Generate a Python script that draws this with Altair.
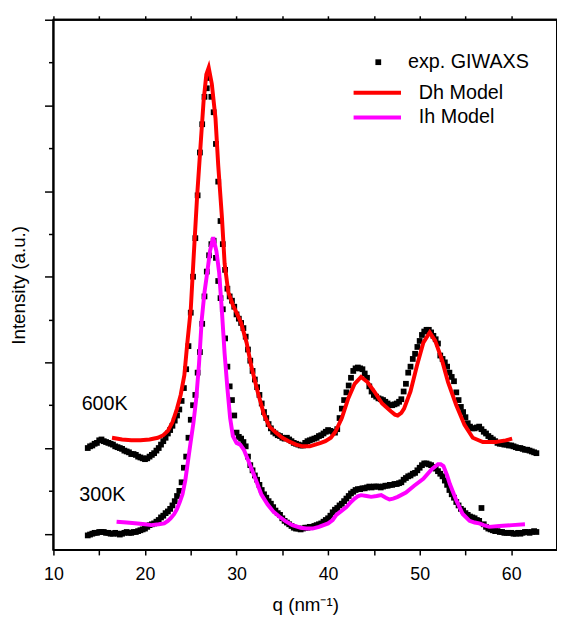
import altair as alt
import pandas as pd

FONT = "Liberation Sans"

# ---------------- data ----------------
Q_EXP = [
    13.75,
    14.0, 14.25, 14.5, 14.75,
    15.0, 15.25, 15.5, 15.75,
    16.0, 16.25, 16.5, 16.75,
    17.0, 17.25, 17.5, 17.75,
    18.0, 18.25, 18.5, 18.75,
    19.0, 19.25, 19.5, 19.75,
    20.0, 20.25, 20.5, 20.75,
    21.0, 21.25, 21.5, 21.75,
    22.0, 22.25, 22.5, 22.75,
    23.0, 23.25, 23.5, 23.75,
    24.0, 24.25, 24.5, 24.75,
    25.0, 25.25, 25.5, 25.75,
    26.0, 26.25, 26.5, 26.75,
    27.0, 27.25, 27.5, 27.75,
    28.0, 28.25, 28.5, 28.75,
    29.0, 29.25, 29.5, 29.75,
    30.0, 30.25, 30.5, 30.75,
    31.0, 31.25, 31.5, 31.75,
    32.0, 32.25, 32.5, 32.75,
    33.0, 33.25, 33.5, 33.75,
    34.0, 34.25, 34.5, 34.75,
    35.0, 35.25, 35.5, 35.75,
    36.0, 36.25, 36.5, 36.75,
    37.0, 37.25, 37.5, 37.75,
    38.0, 38.25, 38.5, 38.75,
    39.0, 39.25, 39.5, 39.75,
    40.0, 40.25, 40.5, 40.75,
    41.0, 41.25, 41.5, 41.75,
    42.0, 42.25, 42.5, 42.75,
    43.0, 43.25, 43.5, 43.75,
    44.0, 44.25, 44.5, 44.75,
    45.0, 45.25, 45.5, 45.75,
    46.0, 46.25, 46.5, 46.75,
    47.0, 47.25, 47.5, 47.75,
    48.0, 48.25, 48.5, 48.75,
    49.0, 49.25, 49.5, 49.75,
    50.0, 50.25, 50.5, 50.75,
    51.0, 51.25, 51.5, 51.75,
    52.0, 52.25, 52.5, 52.75,
    53.0, 53.25, 53.5, 53.75,
    54.0, 54.25, 54.5, 54.75,
    55.0, 55.25, 55.5, 55.75,
    56.0, 56.25, 56.5, 56.75,
    57.0, 57.25, 57.5, 57.75,
    58.0, 58.25, 58.5, 58.75,
    59.0, 59.25, 59.5, 59.75,
    60.0, 60.25, 60.5, 60.75,
    61.0, 61.25, 61.5, 61.75,
    62.0, 62.25, 62.5, 62.75,
]

I_600K = [
    1.00,
    1.02, 1.03, 1.05, 1.06,
    1.09, 1.10, 1.08, 1.07,
    1.06, 1.05, 1.04, 1.02,
    1.01, 1.00, 0.99, 0.97,
    0.96, 0.95, 0.93, 0.93,
    0.92, 0.90, 0.89, 0.88,
    0.87, 0.88, 0.90, 0.92,
    0.94, 0.97, 1.00, 1.04,
    1.08, 1.12, 1.17, 1.21,
    1.26, 1.32, 1.38, 1.45,
    1.55, 1.70, 1.92, 2.19,
    2.58, 3.00, 3.45, 3.95,
    4.45, 4.78, 5.10, 5.20,
    5.32, 5.10, 4.92, 4.55,
    4.11, 3.65, 3.38, 3.08,
    2.86, 2.77, 2.72, 2.65,
    2.56, 2.51, 2.46, 2.40,
    2.30, 2.15, 2.02, 1.90,
    1.80, 1.71, 1.62, 1.52,
    1.42, 1.35, 1.28, 1.23,
    1.19, 1.17, 1.15, 1.14,
    1.12, 1.11, 1.12, 1.10,
    1.08, 1.06, 1.05, 1.04,
    1.03, 1.03, 1.06, 1.08,
    1.09, 1.10, 1.11, 1.12,
    1.14, 1.15, 1.17, 1.19,
    1.21, 1.20, 1.19, 1.18,
    1.22, 1.35, 1.46, 1.56,
    1.65, 1.73, 1.82, 1.90,
    1.93, 1.94, 1.93, 1.92,
    1.87, 1.82, 1.72, 1.66,
    1.62, 1.60, 1.58, 1.57,
    1.56, 1.54, 1.52, 1.50,
    1.50, 1.51, 1.52, 1.54,
    1.57, 1.66, 1.75, 1.88,
    1.95, 2.04, 2.10, 2.18,
    2.25, 2.32, 2.36, 2.38,
    2.38, 2.35, 2.31, 2.27,
    2.22, 2.08, 2.04, 2.00,
    1.95, 1.88, 1.83, 1.78,
    1.65, 1.56, 1.48, 1.42,
    1.36, 1.29, 1.25, 1.23,
    1.23, 1.24, 1.25, 1.22,
    1.19, 1.17, 1.14, 1.12,
    1.10, 1.08, 1.06, 1.05,
    1.05, 1.04, 1.04, 1.03,
    1.03, 1.02, 1.01, 1.00,
    1.00, 0.99, 0.98, 0.98,
    0.97, 0.96, 0.95, 0.94,
]

I_300K = [
    -0.02,
    -0.01, 0.00, 0.01, 0.01,
    0.02, 0.02, 0.02, 0.01,
    0.01, 0.00, 0.00, 0.01,
    0.00, -0.01, 0.00, 0.01,
    0.02, 0.01, 0.01, 0.02,
    0.02, 0.03, 0.04, 0.05,
    0.06, 0.08, 0.10, 0.11,
    0.12, 0.14, 0.16, 0.19,
    0.21, 0.24, 0.26, 0.29,
    0.33, 0.38, 0.44, 0.50,
    0.60, 0.77, 0.90, 1.12,
    1.33, 1.50, 1.62, 1.88,
    2.12, 2.45, 2.77, 3.06,
    3.25, 3.38, 3.42, 3.22,
    2.95, 2.75, 2.62, 2.28,
    1.95, 1.72, 1.56, 1.38,
    1.18, 1.13, 1.11, 1.07,
    1.02, 0.90, 0.80, 0.74,
    0.68, 0.63, 0.57, 0.51,
    0.46, 0.42, 0.38, 0.35,
    0.31, 0.27, 0.24, 0.22,
    0.18, 0.15, 0.13, 0.11,
    0.09, 0.07, 0.06, 0.06,
    0.05, 0.06, 0.07, 0.07,
    0.08, 0.08, 0.09, 0.10,
    0.11, 0.12, 0.14, 0.16,
    0.18, 0.21, 0.25, 0.28,
    0.30, 0.33, 0.35, 0.38,
    0.41, 0.44, 0.47, 0.49,
    0.51, 0.52, 0.52, 0.53,
    0.53, 0.54, 0.55, 0.54,
    0.55, 0.55, 0.55, 0.54,
    0.55, 0.56, 0.56, 0.57,
    0.57, 0.58, 0.58, 0.59,
    0.60, 0.63, 0.65, 0.67,
    0.68, 0.70, 0.71, 0.74,
    0.77, 0.80, 0.82, 0.82,
    0.81, 0.80, 0.78, 0.76,
    0.73, 0.70, 0.67, 0.62,
    0.57, 0.51, 0.46, 0.42,
    0.37, 0.33, 0.29, 0.27,
    0.24, 0.22, 0.20, 0.19,
    0.18, 0.16, 0.15, 0.30,
    0.11, 0.08, 0.06, 0.05,
    0.04, 0.03, 0.03, 0.02,
    0.02, 0.01, 0.01, 0.01,
    0.01, 0.00, 0.00, 0.01,
    0.00, 0.01, 0.02, 0.02,
    0.01, 0.02, 0.03, 0.02,
]

DH_Q = [16.4, 17.5, 18.5, 19.5, 20.5, 21.4, 22.0, 22.5, 23.0, 23.5,
        23.9, 24.3, 24.6, 25.0, 25.3, 25.7, 26.05, 26.4, 26.7, 26.96,
        27.3, 27.7, 28.0, 28.4, 28.7, 29.1, 29.6, 30.0, 30.5, 31.1,
        31.6, 32.3, 33.0, 33.6, 34.3, 35.0, 35.7, 36.5, 37.2, 38.0,
        38.6, 39.2, 39.7, 40.3, 40.8, 41.5, 42.2, 42.9, 43.6, 44.3,
        45.05, 45.9, 46.85, 47.3, 47.6, 48.0, 48.3, 49.0, 49.7, 50.4,
        51.1, 51.7, 52.4, 53.1, 54.0, 54.9, 55.8, 56.9, 58.3, 59.4, 60.1]
DH_I = [1.12, 1.10, 1.09, 1.09, 1.10, 1.12, 1.15, 1.20, 1.30, 1.46,
        1.62, 1.85, 2.20, 2.62, 3.20, 3.95, 4.50, 5.05, 5.36, 5.44,
        5.25, 4.85, 4.30, 3.70, 3.15, 2.82, 2.67, 2.58, 2.46, 2.23,
        1.96, 1.66, 1.39, 1.25, 1.18, 1.12, 1.08, 1.04, 1.02, 1.02,
        1.04, 1.06, 1.08, 1.12, 1.19, 1.35, 1.58, 1.75, 1.83, 1.77,
        1.66, 1.52, 1.43, 1.39, 1.38, 1.41, 1.46, 1.66, 1.96, 2.23,
        2.35, 2.25, 2.04, 1.77, 1.50, 1.27, 1.12, 1.07, 1.07, 1.09, 1.11]

IH_Q = [16.9, 18.0, 19.2, 20.0, 20.7, 21.5, 22.1, 22.5, 22.8, 23.2,
        23.5, 23.8, 24.1, 24.4, 24.7, 25.0, 25.3, 25.6, 25.9, 26.2,
        26.5, 26.8, 27.1, 27.45, 27.8, 28.1, 28.4, 28.7, 29.0, 29.3,
        29.6, 30.0, 30.4, 30.8, 31.3, 32.0, 32.7, 33.4, 34.0, 34.65,
        35.3, 36.1, 37.0, 37.6, 38.3, 39.0, 40.0, 40.5, 40.9, 41.5,
        42.0, 42.5, 42.9, 43.3, 43.6, 44.2, 44.7, 45.3, 45.8, 46.3,
        46.7, 47.1, 47.6, 48.5, 49.4, 50.4, 51.3, 52.0, 52.3, 52.6,
        53.0, 53.3, 54.0, 54.7, 55.45, 56.0, 56.5, 57.0, 57.6, 58.7,
        60.1, 61.5]
IH_I = [0.14, 0.13, 0.12, 0.11, 0.10, 0.11, 0.12, 0.15, 0.18, 0.23,
        0.29, 0.37, 0.46, 0.62, 0.85, 1.08, 1.30, 1.58, 1.98, 2.50,
        2.82, 3.05, 3.30, 3.46, 3.30, 3.05, 2.60, 2.10, 1.70, 1.35,
        1.14, 1.06, 1.04, 0.98, 0.85, 0.66, 0.46, 0.34, 0.26, 0.20,
        0.15, 0.10, 0.07, 0.06, 0.06, 0.08, 0.12, 0.16, 0.22, 0.27,
        0.31, 0.37, 0.41, 0.44, 0.45, 0.44, 0.43, 0.44, 0.45, 0.42,
        0.40, 0.41, 0.43, 0.48, 0.56, 0.64, 0.75, 0.81, 0.81, 0.79,
        0.68, 0.58, 0.39, 0.23, 0.15, 0.13, 0.12, 0.10, 0.08, 0.09,
        0.10, 0.11]

SERIES_LABELS = ["600K", "300K"]
LABEL_Q = [15.6, 15.35]
LABEL_I = [1.51, 0.45]

EXP_NAME = "exp. GIWAXS"
MODEL_NAMES = ["Dh Model", "Ih Model"]
MODEL_COLORS = ["#ff0000", "#ff00ff"]

X_DOMAIN = [10, 65]
Y_DOMAIN = [-0.19, 6.0]
X_MAJOR = [10, 20, 30, 40, 50, 60]
X_MINOR = [15, 25, 35, 45, 55]
Y_MAJOR = [0, 1, 2, 3, 4, 5, 6]
Y_MINOR = [0.5, 1.5, 2.5, 3.5, 4.5, 5.5]

# ---------------- frames ----------------
exp_df = pd.DataFrame({
    "q": Q_EXP + Q_EXP,
    "I": I_600K + I_300K,
    "kind": [EXP_NAME] * (2 * len(Q_EXP)),
})
model_df = pd.DataFrame({
    "q": DH_Q + IH_Q,
    "I": DH_I + IH_I,
    "model": [MODEL_NAMES[0]] * len(DH_Q) + [MODEL_NAMES[1]] * len(IH_Q),
})
label_df = pd.DataFrame({"q": LABEL_Q, "I": LABEL_I, "label": SERIES_LABELS})
edge_df = pd.DataFrame({"q": [X_DOMAIN[0], X_DOMAIN[1]], "I": [Y_DOMAIN[0], Y_DOMAIN[1]]})

xs = alt.Scale(domain=X_DOMAIN, nice=False, zero=False)
ys = alt.Scale(domain=Y_DOMAIN, nice=False, zero=False)

ax = dict(domain=False, grid=False, tickColor="black", tickWidth=1.5)

# plot frame: vertical rules at the two q limits, horizontal rules at the two I limits
vframe = alt.Chart(edge_df).mark_rule(color="black", strokeWidth=2).encode(
    x=alt.X("q:Q", scale=xs, axis=None),
)
hframe = alt.Chart(edge_df).mark_rule(color="black", strokeWidth=2).encode(
    y=alt.Y("I:Q", scale=ys, axis=None),
)

pts = alt.Chart(exp_df).mark_point(filled=True, size=34, color="black", opacity=1).encode(
    x=alt.X("q:Q", scale=xs, axis=alt.Axis(
        orient="bottom", values=X_MAJOR, tickSize=5, labelFontSize=18, labelFont=FONT,
        labelColor="black", labelPadding=11, labelFlush=False, labelOverlap=False,
        title="q (nm\u207b\u00b9)", titleFont=FONT, titleFontSize=19, titleFontWeight="normal",
        titleColor="black", titlePadding=12, **ax)),
    y=alt.Y("I:Q", scale=ys, axis=alt.Axis(
        orient="left", values=Y_MAJOR, tickSize=9, labels=False,
        title="Intensity (a.u.)", titleFont=FONT, titleFontSize=19, titleFontWeight="normal",
        titleColor="black", titlePadding=16, **ax)),
    shape=alt.Shape("kind:N", scale=alt.Scale(domain=[EXP_NAME], range=["square"]),
                    legend=alt.Legend(title=None, orient="none", legendX=319, legendY=33,
                                      symbolSize=34, symbolFillColor="black",
                                      symbolStrokeWidth=0, labelOffset=20,
                                      labelFontSize=20, labelFont=FONT, labelColor="black",
                                      padding=0)),
)

lines = alt.Chart(model_df).mark_line(strokeWidth=4).encode(
    x=alt.X("q:Q", scale=xs, axis=alt.Axis(
        orient="top", values=sorted(X_MAJOR + X_MINOR), tickSize=4, labels=False,
        title=None, **ax)),
    y=alt.Y("I:Q", scale=ys, axis=alt.Axis(
        orient="left", values=Y_MINOR, tickSize=5, labels=False, title=None, **ax)),
    color=alt.Color("model:N", scale=alt.Scale(domain=MODEL_NAMES, range=MODEL_COLORS),
                    legend=alt.Legend(title=None, orient="none", legendX=318, legendY=64,
                                      symbolType="M-8,0L8,0", symbolSize=36,
                                      symbolStrokeWidth=4, labelOffset=32,
                                      labelFontSize=20, labelFont=FONT, labelColor="black",
                                      rowPadding=5, padding=0)),
)

txt = alt.Chart(label_df).mark_text(font=FONT, fontSize=20, color="black",
                                    align="center", baseline="middle").encode(
    x=alt.X("q:Q", scale=xs, axis=alt.Axis(
        orient="bottom", values=X_MINOR, tickSize=5, labels=False, title=None, **ax)),
    y=alt.Y("I:Q", scale=ys, axis=None),
    text="label:N",
)

chart = alt.layer(vframe, hframe, pts, lines, txt).resolve_axis(
    x="independent", y="independent"
).properties(
    width=510, height=537,
    autosize=alt.AutoSizeParams(type="none"),
    padding={"left": 46, "top": 8, "right": 0, "bottom": 64},
).configure(font=FONT).configure_view(stroke="black", strokeWidth=2)

chart.save("out.html", embed_options={"renderer": "svg", "actions": False})
